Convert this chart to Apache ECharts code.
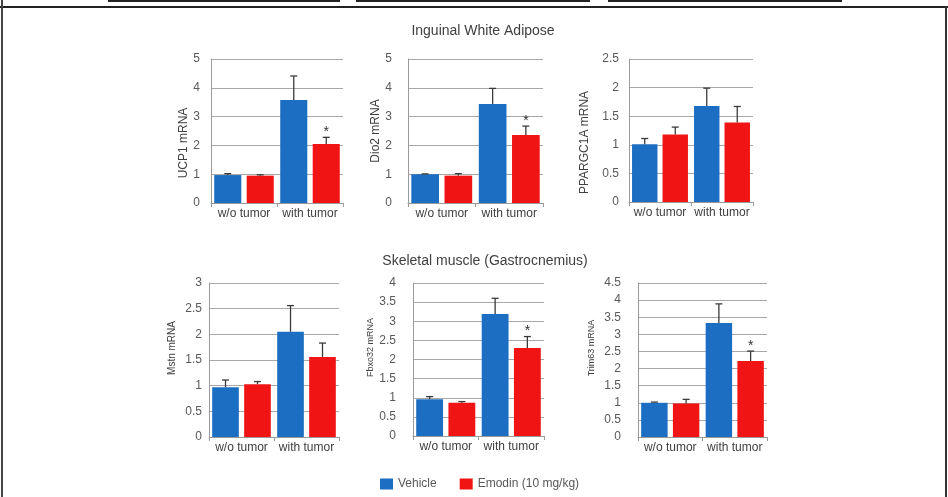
<!DOCTYPE html>
<html><head><meta charset="utf-8">
<script src="https://cdn.jsdelivr.net/npm/echarts@6/dist/echarts.min.js"></script>
<style>html,body{margin:0;padding:0;background:#fff}#c{width:948px;height:497px}</style>
</head><body><div id="c"></div>
<script>
const categories = ['w/o tumor', 'with tumor'];
const seriesNames = ['Vehicle', 'Emodin (10 mg/kg)'];
const sectionTitles = ['Inguinal White Adipose', 'Skeletal muscle (Gastrocnemius)'];
const geneLabels = ['UCP1 mRNA', 'Dio2 mRNA', 'PPARGC1A mRNA', 'Mstn mRNA', 'Fbxo32 mRNA', 'Trim63 mRNA'];
const yMax = [5, 5, 2.5, 3, 4, 4.5];
const yStep = [1, 1, 0.5, 0.5, 0.5, 0.5];
const vehicleMean = [[0.97, 3.58], [1.00, 3.44], [1.01, 1.68], [0.97, 2.05], [0.96, 3.19], [1.00, 3.33]];
const vehicleSem  = [[0.05, 0.83], [0.01, 0.54], [0.10, 0.31], [0.14, 0.51], [0.07, 0.41], [0.02, 0.56]];
const emodinMean  = [[0.95, 2.05], [0.95, 2.36], [1.18, 1.39], [1.03, 1.56], [0.87, 2.30], [0.98, 2.22]];
const emodinSem   = [[0.03, 0.23], [0.07, 0.31], [0.13, 0.28], [0.05, 0.27], [0.03, 0.30], [0.12, 0.29]];
const emodinSig   = [[0, 1], [0, 1], [0, 0], [0, 0], [0, 1], [0, 1]];

// layout (styling only)
const grids = [
  {left: 211, top: 59, width: 132, height: 144},
  {left: 408, top: 59, width: 135, height: 144},
  {left: 629, top: 59, width: 124, height: 143},
  {left: 209, top: 283, width: 130, height: 154},
  {left: 413, top: 283, width: 131, height: 153},
  {left: 638, top: 283, width: 129, height: 154}
];
const labelMargin = [11, 16, 10, 7, 17, 17];
const nameGap = [20, 24, 38, 32, 34, 42];
const nameSize = [12, 12, 12, 10, 9, 9];
const namePad = [[0, 24, 0, 0], [0, 0, 0, 0], [0, 24, 0, 0], [0, 0, 0, 24], [0, 0, 0, 24], [0, 0, 0, 24]];
const colors = ['#1b6ec2', '#f01414'];
const BAR_FRAC = 0.41, GAP_FRAC = 0.2;
const FONT = 'Liberation Sans, Arial, sans-serif';

function errRender(side) {
  return function (params, api) {
    const cat = api.value(0), mean = api.value(1), sem = api.value(2), sig = api.value(3);
    const cw = api.size([1, 0])[0];
    const bw = cw * BAR_FRAC, gap = bw * GAP_FRAC;
    const x = api.coord([cat, 0])[0] + side * (bw + gap) / 2;
    const yTop = api.coord([cat, mean + sem])[1];
    const yMean = api.coord([cat, mean])[1];
    const ch = [
      {type: 'line', shape: {x1: x, y1: yMean, x2: x, y2: yTop}, style: {stroke: '#3a3a3a', lineWidth: 1.3}},
      {type: 'line', shape: {x1: x - 3.5, y1: yTop, x2: x + 3.5, y2: yTop}, style: {stroke: '#3a3a3a', lineWidth: 1.3}}
    ];
    if (sig) ch.push({type: 'text', x: x, y: yTop - 5,
      style: {text: '*', fill: '#333', font: '14px ' + FONT, align: 'center', verticalAlign: 'middle'}});
    return {type: 'group', children: ch};
  };
}

const xAxis = [], yAxis = [], series = [];
grids.forEach((g, i) => {
  xAxis.push({
    gridIndex: i, type: 'category', data: categories,
    axisLine: {lineStyle: {color: '#9a9a9a', width: 1}},
    axisTick: {show: true, length: 4, lineStyle: {color: '#9a9a9a'}},
    axisLabel: {color: '#404040', fontSize: 12, fontFamily: FONT, margin: 5, interval: 0}
  });
  yAxis.push({
    gridIndex: i, type: 'value', min: 0, max: yMax[i], interval: yStep[i],
    name: geneLabels[i], nameLocation: 'middle', nameRotate: 90, nameGap: nameGap[i],
    nameTextStyle: {color: '#404040', fontSize: nameSize[i], fontFamily: FONT, padding: namePad[i]},
    axisLine: {show: true, lineStyle: {color: '#9a9a9a'}},
    axisTick: {show: false},
    splitLine: {lineStyle: {color: '#a8a8a8', width: 1}},
    axisLabel: {color: '#595959', fontSize: 12, fontFamily: FONT, margin: labelMargin[i]}
  });
  series.push({
    name: seriesNames[0], type: 'bar', xAxisIndex: i, yAxisIndex: i,
    data: vehicleMean[i], barWidth: (BAR_FRAC * 100) + '%', barGap: (GAP_FRAC * 100) + '%',
    itemStyle: {color: colors[0]}, silent: true
  });
  series.push({
    name: seriesNames[1], type: 'bar', xAxisIndex: i, yAxisIndex: i,
    data: emodinMean[i], barWidth: (BAR_FRAC * 100) + '%', barGap: (GAP_FRAC * 100) + '%',
    itemStyle: {color: colors[1]}, silent: true
  });
  series.push({
    type: 'custom', xAxisIndex: i, yAxisIndex: i, z: 5, silent: true,
    renderItem: errRender(-1),
    data: vehicleMean[i].map((m, k) => [k, m, vehicleSem[i][k], 0])
  });
  series.push({
    type: 'custom', xAxisIndex: i, yAxisIndex: i, z: 5, silent: true,
    renderItem: errRender(1),
    data: emodinMean[i].map((m, k) => [k, m, emodinSem[i][k], emodinSig[i][k]])
  });
});

const chart = echarts.init(document.getElementById('c'), null, {renderer: 'canvas'});
chart.setOption({
  animation: false,
  backgroundColor: '#ffffff',
  color: colors,
  title: [
    {text: sectionTitles[0], left: 478, top: 19, textAlign: 'center',
      textStyle: {fontSize: 14, fontWeight: 'normal', color: '#404040', fontFamily: FONT}},
    {text: sectionTitles[1], left: 480, top: 249, textAlign: 'center',
      textStyle: {fontSize: 14, fontWeight: 'normal', color: '#404040', fontFamily: FONT}}
  ],
  legend: {
    data: seriesNames, left: 375, top: 473, icon: 'rect', itemWidth: 13, itemHeight: 11, itemGap: 23,
    textStyle: {color: '#595959', fontSize: 12, fontFamily: FONT}
  },
  grid: grids,
  xAxis: xAxis,
  yAxis: yAxis,
  series: series,
  graphic: [
    {type: 'rect', shape: {x: 108, y: 0, width: 232, height: 2}, style: {fill: '#222'}},
    {type: 'rect', shape: {x: 356, y: 0, width: 234, height: 2}, style: {fill: '#222'}},
    {type: 'rect', shape: {x: 608, y: 0, width: 234, height: 2}, style: {fill: '#222'}},
    {type: 'rect', shape: {x: 0, y: 6, width: 948, height: 2}, style: {fill: '#222'}},
    {type: 'rect', shape: {x: 1, y: 0, width: 2, height: 497}, style: {fill: '#444'}},
    {type: 'rect', shape: {x: 945, y: 6, width: 2, height: 491}, style: {fill: '#333'}}
  ]
});
</script></body></html>
